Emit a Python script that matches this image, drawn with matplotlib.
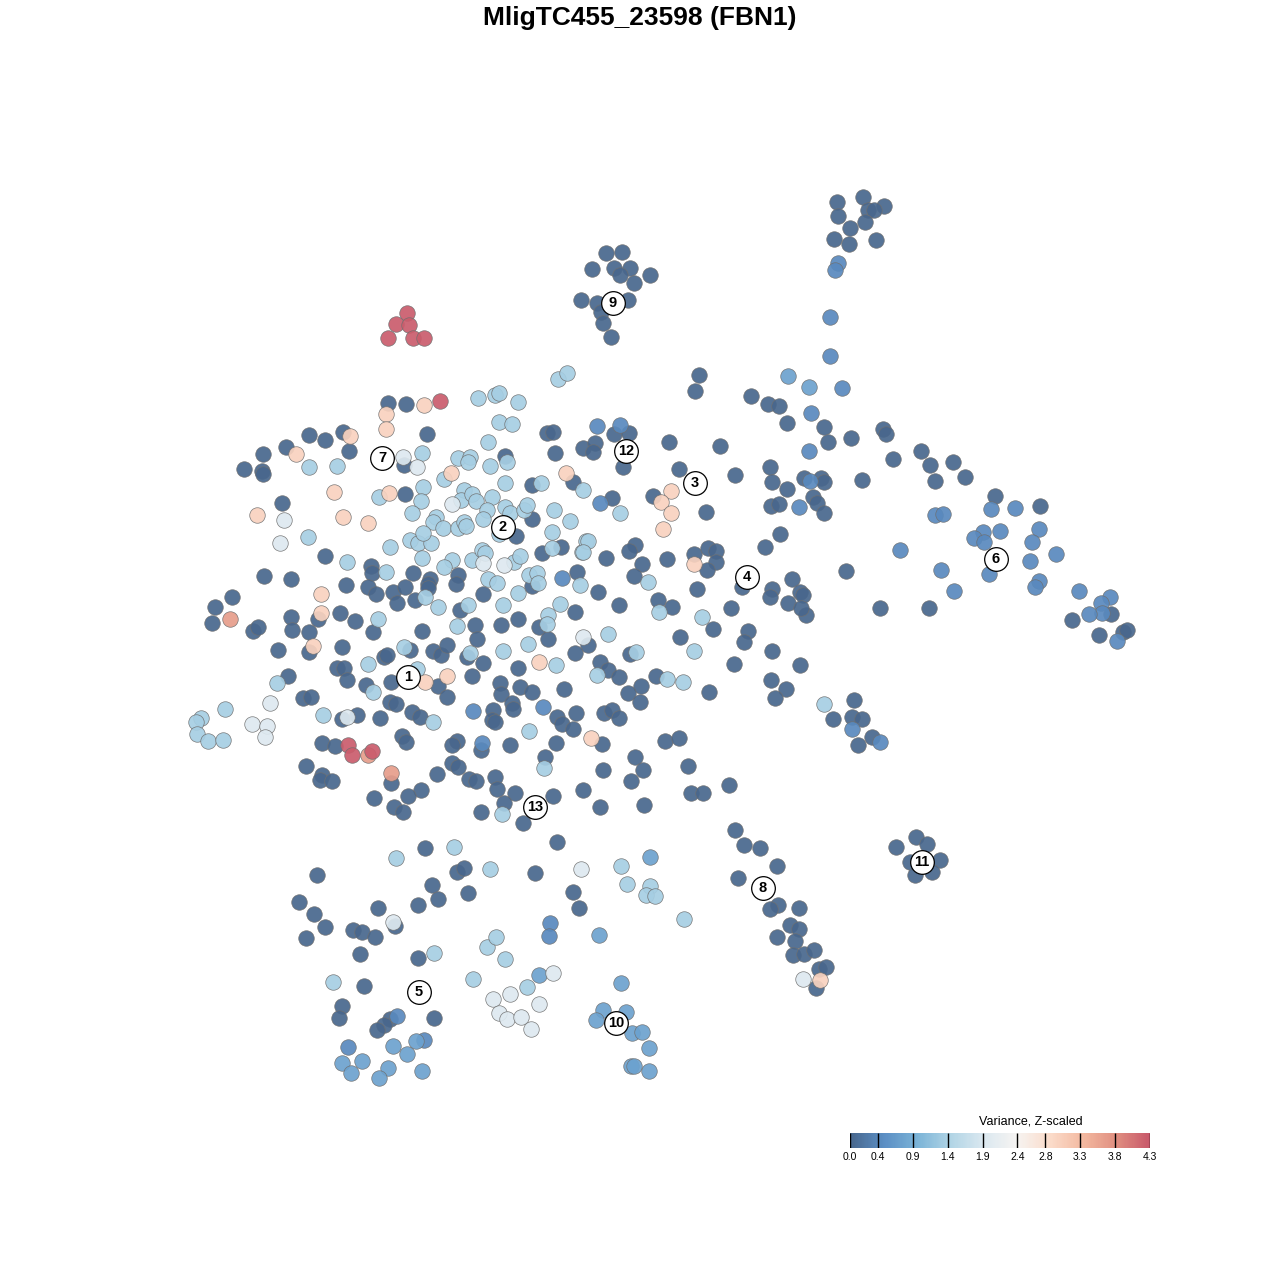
import numpy as np
import matplotlib
matplotlib.use("Agg")
import matplotlib.pyplot as plt
from matplotlib.colors import LinearSegmentedColormap, Normalize
from matplotlib.colorbar import ColorbarBase

plt.rcParams['font.family'] = ['Liberation Sans', 'DejaVu Sans']

# t-SNE style embedding coordinates, grouped by variance level
dark = [(837,202),(863,197),(868,210),(884,206),(874,210),(838,216),(865,222),(850,228),(834,239),(849,244),(876,240),
        (606,253),(622,252),(592,269),(614,268),(630,268),(620,275),(650,275),(634,283),(581,300),(597,303),(628,300),
        (601,312),(603,323),(611,337),
        (309,435),(325,440),(343,432),(263,454),(286,447),(349,451),(244,469),(262,471),(263,474),(282,503),(325,556),
        (371,566),(372,573),(264,576),(291,579),
        (388,403),(406,404),(427,434),(547,433),(553,432),(404,465),(505,456),(555,453),(573,482),(532,485),(405,494),
        (532,519),(516,536),(542,553),(561,547),(413,573),(458,575),(577,572),(430,579),
        (215,607),(232,597),(212,623),(253,631),(258,627),(291,617),(292,630),(318,619),(309,632),(309,652),(278,650),
        (340,613),(355,621),(346,585),(368,587),(376,594),(393,592),(397,603),(373,632),(342,647),(384,657),(387,655),
        (337,668),(344,668),(347,680),(366,685),(391,682),(288,676),(303,698),(311,697),(342,719),(357,715),(380,718),
        (390,702),(396,704),(322,743),(335,746),(306,766),(322,775),(320,780),(332,781),(391,783),(374,798),(394,807),
        (405,587),(428,584),(428,588),(456,584),(415,600),(483,594),(532,586),(598,592),(460,610),(518,619),(575,612),
        (539,627),(548,639),(475,625),(477,639),(501,625),(422,631),(588,645),(575,653),(600,662),(608,670),(410,650),
        (433,651),(441,655),(447,645),(467,657),(483,663),(518,668),(472,676),(500,683),(501,694),(520,687),(532,692),
        (564,689),(438,686),(447,697),(412,712),(420,717),(493,710),(492,720),(495,722),(512,703),(513,709),(557,717),
        (562,724),(573,729),(576,713),(402,736),(406,742),(457,741),(452,745),(481,750),(510,745),(556,743),(602,744),
        (545,757),(603,770),(437,774),(452,763),(458,767),(469,779),(476,781),(495,777),(497,789),(515,793),(504,803),
        (421,790),(408,796),(403,812),(481,812),(553,796),(583,790),(600,807),
        (614,434),(629,433),(583,448),(595,443),(593,452),(623,467),(669,442),(720,446),(679,469),(735,475),(768,404),
        (779,406),(787,423),(770,467),(772,482),(787,489),(804,478),(771,506),(779,504),(813,497),(612,498),(653,496),
        (706,512),(635,545),(629,551),(606,558),(642,564),(634,576),(667,559),(694,554),(708,548),(716,551),(716,562),
        (707,570),(765,547),(780,534),(742,587),(697,589),(619,605),(658,600),(672,607),(731,608),(772,589),(770,597),
        (792,579),(800,592),(803,595),(788,603),(806,615),
        (699,375),(695,391),(751,396),(824,427),(828,442),(851,438),(883,429),(886,434),(893,459),(862,480),(821,478),
        (824,482),(817,503),(824,513),(801,608),(846,571),(880,608),
        (921,451),(930,465),(953,462),(935,481),(965,477),(995,496),(1040,506),(929,608),(1111,614),(1072,620),
        (1099,635),(1123,632),(1127,630),
        (713,629),(748,631),(744,642),(680,637),(630,654),(772,651),(800,665),(734,664),(619,677),(656,676),(641,686),
        (628,693),(640,702),(709,692),(771,680),(786,689),(775,698),(604,713),(612,710),(619,718),(665,741),(679,738),
        (635,757),(643,770),(631,781),(688,766),(691,793),(703,793),(729,785),(644,805),(735,830),
        (854,700),(833,719),(852,717),(862,719),(872,737),(858,745),(744,845),(760,848),(777,866),(738,878),(778,905),
        (770,909),(799,908),(790,925),(799,929),(777,937),(795,941),(793,955),(804,954),(814,950),(819,969),(826,967),
        (816,988),(916,837),(927,844),(896,847),(910,862),(940,860),(915,875),(932,872),
        (317,875),(299,902),(314,914),(325,927),(306,938),(353,930),(362,932),(375,937),(360,954),(378,908),(395,926),
        (425,848),(457,872),(464,868),(432,885),(438,899),(418,905),(468,893),(418,958),(364,986),(342,1006),(339,1018),
        (390,1019),(384,1025),(377,1030),(434,1018),
        (523,823),(557,842),(535,873),(573,892),(579,908)]

mid = [(838,263),(835,270),(830,317),(830,356),(597,426),(620,425),(811,413),(809,451),(810,481),(799,507),(600,503),
       (562,578),(473,711),(543,707),(482,743),(842,388),(852,729),(880,742),(935,515),(943,514),(991,509),(1015,508),
       (983,532),(974,538),(984,542),(1000,531),(1039,529),(1032,542),(900,550),(1030,561),(1056,554),(989,574),
       (941,570),(954,591),(1039,581),(1035,587),(1079,591),(1110,597),(1101,603),(1102,613),(1089,614),(1117,641),
       (550,923),(549,936),(397,1016),(348,1047),(424,1040)]

mid_light = [(788,376),(809,387),(650,857),(599,935),(539,975),(621,983),(603,1010),(596,1020),(626,1012),(632,1033),
             (642,1032),(649,1048),(631,1066),(634,1066),(649,1071),(393,1046),(416,1041),(407,1054),(342,1063),
             (351,1073),(362,1061),(388,1068),(379,1078),(422,1071)]

light = [(558,379),(567,373),(478,398),(495,395),(499,393),(518,402),(499,422),(512,424),(488,442),(422,453),(458,458),
         (470,457),(468,462),(490,466),(507,462),(583,490),(309,467),(337,466),(379,497),(308,537),(347,562),(444,479),
         (505,483),(541,483),(423,487),(421,501),(464,490),(461,500),(472,494),(476,501),(492,497),(487,510),(483,519),
         (505,507),(510,513),(524,510),(527,505),(554,510),(570,521),(412,513),(436,517),(433,522),(443,528),(458,528),
         (464,522),(466,526),(499,534),(552,532),(390,547),(410,540),(418,543),(431,543),(423,533),(422,558),(452,560),
         (444,567),(472,560),(482,550),(485,553),(514,562),(520,556),(552,548),(582,552),(586,541),(386,572),(488,579),
         (620,513),(588,541),(583,552),(648,582),(659,612),(702,617),
         (378,619),(368,664),(373,692),(277,683),(225,709),(201,718),(196,722),(197,734),(208,741),(223,740),(323,715),
         (425,597),(438,607),(497,583),(518,593),(529,575),(537,573),(538,583),(580,585),(468,605),(503,605),(560,604),
         (548,615),(547,624),(457,626),(528,644),(597,675),(404,647),(470,653),(503,651),(556,665),(417,669),(433,722),
         (529,731),(544,768),(502,814),
         (608,634),(636,652),(694,651),(667,679),(683,682),(824,704),
         (396,858),(454,847),(490,869),(487,947),(496,937),(473,979),(333,982),(434,953),(621,866),(627,884),(650,886),
         (646,895),(655,896),(684,919),(505,959),(527,987)]

white = [(403,457),(417,467),(452,504),(483,563),(504,565),(284,520),(280,543),(270,703),(347,717),(252,724),(267,726),
         (265,737),(583,637),(393,922),(581,869),(553,973),(510,994),(493,999),(539,1004),(499,1013),(507,1019),
         (521,1017),(531,1029),(803,979)]

peach = [(350,436),(296,454),(334,492),(257,515),(343,517),(368,523),(424,405),(386,414),(386,429),(566,473),(451,473),
         (389,493),(321,594),(321,613),(313,646),(425,682),(447,676),(539,662),(591,738),(671,491),(661,502),(671,513),
         (663,529),(694,564),(820,980)]

salmon = [(230,619),(391,773),(368,755)]

red = [(407,313),(396,324),(409,325),(388,338),(413,338),(424,338),(440,401),(348,745),(352,755),(372,751)]

groups = [dark, mid, mid_light, light, white, peach, salmon, red]
group_values = [0.0, 0.42, 0.75, 1.35, 1.95, 3.0, 3.65, 4.25]

# cluster labels
cluster_ids = ['1', '2', '3', '4', '5', '6', '7', '8', '9', '10', '11', '12', '13']
cluster_x = [408, 503, 695, 747, 419, 996, 382, 763, 613, 616, 922, 626, 535]
cluster_y = [677, 527, 483, 577, 992, 559, 458, 888, 303, 1023, 862, 451, 807]

vmax = 4.3
cbar_colors = ["#48678d", "#5b8ec4", "#7ab3d7", "#b0d4e5", "#dbe8f0",
               "#f6f4f2", "#fbdccb", "#f3b9a0", "#e08e80", "#c8586a"]
cbar_ticklabels = ['0.0', '0.4', '0.9', '1.4', '1.9', '2.4', '2.8', '3.3', '3.8', '4.3']

cmap = LinearSegmentedColormap.from_list('var', cbar_colors)
norm = Normalize(0, vmax)

fig = plt.figure(figsize=(12.8, 12.8), dpi=100)
ax = fig.add_axes([0, 0, 1, 1])
ax.set_xlim(0, 1280)
ax.set_ylim(1280, 0)
ax.axis('off')

for pts, val in zip(groups, group_values):
    arr = np.array(pts)
    ax.scatter(arr[:, 0], arr[:, 1], s=125, color=cmap(norm(val)),
               edgecolors='#6f6f6f', linewidths=0.5, alpha=0.92, zorder=2)

ax.scatter(cluster_x, cluster_y, s=290, color='white', edgecolors='black', linewidths=0.9, zorder=3)
for lab, cx, cy in zip(cluster_ids, cluster_x, cluster_y):
    ax.text(cx, cy, lab, ha='center', va='center', fontsize=10.5, fontweight='bold', zorder=4)

fig.text(0.5, 1 - 18 / 1280, 'MligTC455_23598 (FBN1)', ha='center', va='center',
         fontsize=19, fontweight='bold')

# colour bar
cax = fig.add_axes([850 / 1280, (1280 - 1148) / 1280, 300 / 1280, 15 / 1280])
cb = ColorbarBase(cax, cmap=cmap, norm=norm, orientation='horizontal')
ticks = [float(t) for t in cbar_ticklabels]
cb.set_ticks(ticks)
cb.set_ticklabels(cbar_ticklabels)
cb.outline.set_visible(False)
cax.tick_params(length=0, labelsize=7.5, pad=3)
cax.vlines(ticks, 0, 1, colors='black', linewidth=1, transform=cax.get_xaxis_transform())
fig.text(1031 / 1280, 1 - 1122 / 1280, 'Variance, Z-scaled', ha='center', va='center', fontsize=9)

fig.savefig('out.png', dpi=100)
